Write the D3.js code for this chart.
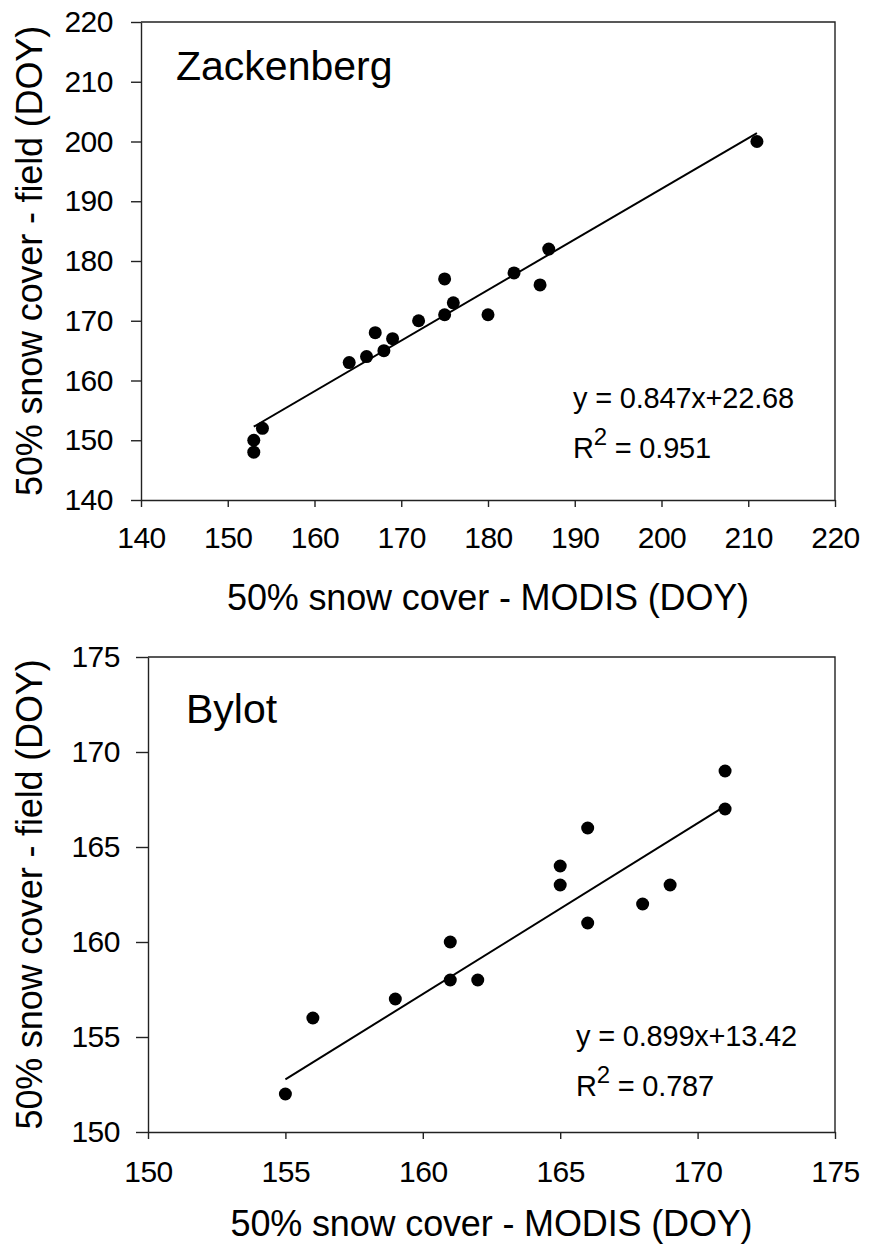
<!DOCTYPE html>
<html>
<head>
<meta charset="utf-8">
<script src="https://cdn.jsdelivr.net/npm/d3@7"></script>
<style>
  body { margin: 0; background: #fff; }
  svg text { font-family: "Liberation Sans", Arial, sans-serif; fill: #000; }
</style>
</head>
<body>
<svg id="vis" width="870" height="1250"></svg>
<script>
// Zackenberg: 50% snow cover dates (DOY), MODIS vs field
const zackModis = [153, 153, 154, 164, 166, 167, 168, 169, 172, 175, 175, 176, 180, 183, 186, 187, 211];
const zackField = [148, 150, 152, 163, 164, 168, 165, 167, 170, 177, 171, 173, 171, 178, 176, 182, 200];
const zackFit = [0.847, 22.68];
const zackEq = "y = 0.847x+22.68";
const zackR2 = "0.951";
const zackTicks = [140, 150, 160, 170, 180, 190, 200, 210, 220];

// Bylot
const bylotModis = [155, 156, 159, 161, 161, 162, 165, 165, 166, 166, 168, 169, 171, 171];
const bylotField = [152, 156, 157, 160, 158, 158, 164, 163, 166, 161, 162, 163, 169, 167];
const bylotFit = [0.899, 13.42];
const bylotEq = "y = 0.899x+13.42";
const bylotR2 = "0.787";
const bylotTicks = [150, 155, 160, 165, 170, 175];

const xTitle = "50% snow cover - MODIS (DOY)";
const yTitle = "50% snow cover - field (DOY)";

const svg = d3.select("svg#vis");

drawPanel({
  name: "Zackenberg", xs: zackModis, ys: zackField, fit: zackFit, eq: zackEq, r2: zackR2, ticks: zackTicks,
  left: 141, right: 835, top: 22, bottom: 500, ytick: 10, xpad: 20,
  label: [35, 58], eqPos: [432, 386], xTitleY: 110
});

drawPanel({
  name: "Bylot", xs: bylotModis, ys: bylotField, fit: bylotFit, eq: bylotEq, r2: bylotR2, ticks: bylotTicks,
  left: 148, right: 835, top: 657, bottom: 1132, ytick: 12, xpad: 22,
  label: [38, 66], eqPos: [428, 389], xTitleY: 104
});

function drawPanel(p) {
  const w = p.right - p.left;
  const h = p.bottom - p.top;
  const g = svg.append("g").attr("transform", `translate(${p.left},${p.top})`);

  const domain = [p.ticks[0], p.ticks[p.ticks.length - 1]];
  const x = d3.scaleLinear().domain(domain).range([0, w]);
  const y = d3.scaleLinear().domain(domain).range([h, 0]);

  // frame (top + right)
  g.append("path")
    .attr("d", `M0,0H${w}V${h}`)
    .attr("fill", "none")
    .attr("stroke", "#222")
    .attr("stroke-width", 1.4);

  const xAxis = g.append("g")
    .attr("transform", `translate(0,${h})`)
    .call(d3.axisBottom(x).tickValues(p.ticks).tickSize(7).tickSizeOuter(0).tickPadding(p.xpad).tickFormat(d3.format("d")));

  const yAxis = g.append("g")
    .call(d3.axisLeft(y).tickValues(p.ticks).tickSize(p.ytick).tickSizeOuter(0).tickPadding(28 - p.ytick).tickFormat(d3.format("d")));

  [xAxis, yAxis].forEach(a => {
    a.selectAll("path.domain").attr("stroke", "#222").attr("stroke-width", 1.4);
    a.selectAll(".tick line").attr("stroke", "#222").attr("stroke-width", 1.4);
    a.selectAll(".tick text")
      .attr("fill", "#000")
      .style("font-size", "30px")
      .style("letter-spacing", "-0.5px")
      .style("font-family", "'Liberation Sans', Arial, sans-serif");
  });

  // regression line over the data range
  const ext = d3.extent(p.xs);
  const lineData = ext.map(v => [v, p.fit[0] * v + p.fit[1]]);
  g.append("path")
    .datum(lineData)
    .attr("d", d3.line().x(d => x(d[0])).y(d => y(d[1])))
    .attr("fill", "none")
    .attr("stroke", "#000")
    .attr("stroke-width", 2);

  g.selectAll("circle.pt")
    .data(p.xs.map((v, i) => [v, p.ys[i]]))
    .enter()
    .append("circle")
    .attr("class", "pt")
    .attr("cx", d => x(d[0]))
    .attr("cy", d => y(d[1]))
    .attr("r", 6.5)
    .attr("fill", "#000");

  // site name
  g.append("text")
    .attr("x", p.label[0])
    .attr("y", p.label[1])
    .style("font-size", "41px")
    .text(p.name);

  // equation + R²
  g.append("text")
    .attr("x", p.eqPos[0])
    .attr("y", p.eqPos[1])
    .style("font-size", "29px")
    .style("letter-spacing", "-0.2px")
    .text(p.eq);

  const r2 = g.append("text")
    .attr("x", p.eqPos[0])
    .attr("y", p.eqPos[1] + 50)
    .style("font-size", "29px")
    .style("letter-spacing", "-0.2px");
  r2.append("tspan").text("R");
  r2.append("tspan").attr("dy", -13).style("font-size", "24px").text("2");
  r2.append("tspan").attr("dy", 13).text(" = " + p.r2);

  // axis titles
  g.append("text")
    .attr("x", w / 2)
    .attr("y", h + p.xTitleY)
    .attr("text-anchor", "middle")
    .style("font-size", "36px")
    .style("letter-spacing", "-0.15px")
    .text(xTitle);

  g.append("text")
    .attr("transform", `translate(${42 - p.left},${h / 2}) rotate(-90)`)
    .attr("text-anchor", "middle")
    .style("font-size", "36px")
    .style("letter-spacing", "-0.15px")
    .text(yTitle);
}
</script>
</body>
</html>
